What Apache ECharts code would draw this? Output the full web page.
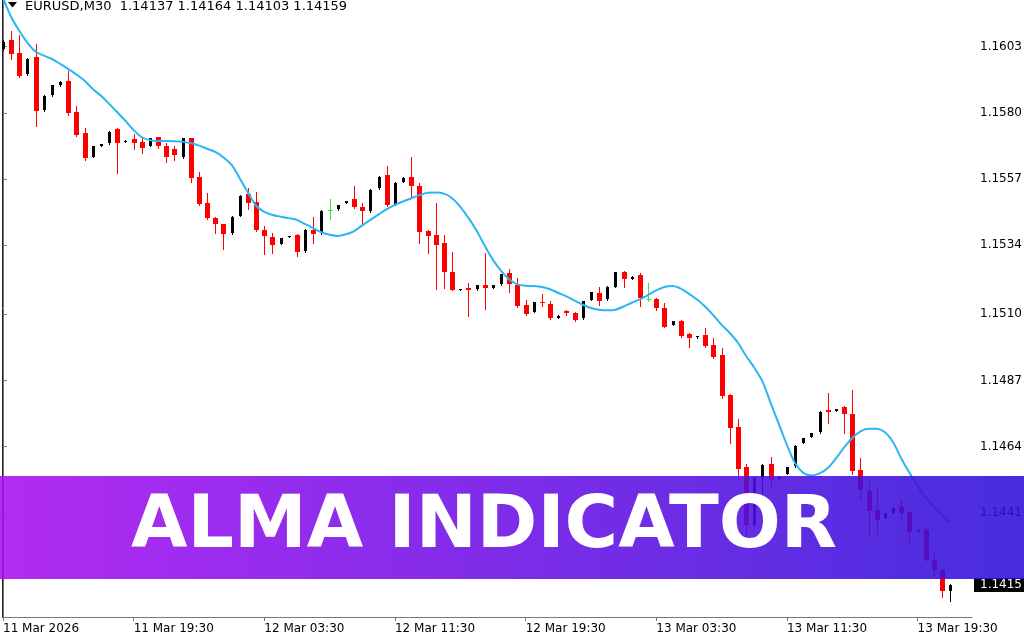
<!DOCTYPE html>
<html><head><meta charset="utf-8">
<script src="https://cdn.jsdelivr.net/npm/echarts@6/dist/echarts.min.js"></script>
<style>html,body{margin:0;padding:0;background:#fff}#c{width:1024px;height:640px}</style>
</head><body><div id="c"></div>
<script>
const headerText = 'EURUSD,M30  1.14137 1.14164 1.14103 1.14159';
const bannerText = 'ALMA INDICATOR';
const xTickIndex = [0, 16, 32, 48, 64, 80, 96, 112];
const xTickLabels = ['11 Mar 2026', '11 Mar 19:30', '12 Mar 03:30', '12 Mar 11:30', '12 Mar 19:30', '13 Mar 03:30', '13 Mar 11:30', '13 Mar 19:30'];
const yTickValues = [1.1603, 1.1580, 1.1557, 1.1534, 1.1510, 1.1487, 1.1464, 1.1441];
// [open, high, low, close] per 30-minute bar, 11 Mar 11:30 .. 13 Mar 21:30
const ohlc = [
[1.16021,1.16053,1.16019,1.16047],[1.16053,1.16086,1.15986,1.16004],[1.16007,1.16071,1.15926,1.15928],[1.15935,1.15991,1.15932,1.15986],
[1.15995,1.16039,1.15755,1.15808],[1.15810,1.15862,1.15807,1.15859],[1.15862,1.15897,1.15859,1.15895],[1.15897,1.15911,1.15893,1.15908],
[1.15912,1.15947,1.15793,1.15801],[1.15803,1.15824,1.15721,1.15723],[1.15731,1.15748,1.15636,1.15642],[1.15648,1.15685,1.15647,1.15683],
[1.15686,1.15692,1.15685,1.15691],[1.15694,1.15737,1.15692,1.15735],[1.15743,1.15747,1.15592,1.15694],[1.15698,1.15704,1.15697,1.15703],
[1.15708,1.15727,1.15674,1.15696],[1.15700,1.15712,1.15662,1.15679],[1.15686,1.15713,1.15685,1.15712],[1.15715,1.15717,1.15677,1.15683],
[1.15685,1.15694,1.15630,1.15648],[1.15674,1.15683,1.15636,1.15654],[1.15646,1.15713,1.15643,1.15712],[1.15712,1.15713,1.15561,1.15573],
[1.15576,1.15596,1.15480,1.15483],[1.15488,1.15521,1.15430,1.15434],[1.15434,1.15439,1.15382,1.15414],[1.15414,1.15415,1.15326,1.15378],
[1.15382,1.15442,1.15379,1.15439],[1.15442,1.15513,1.15440,1.15511],[1.15517,1.15538,1.15467,1.15488],[1.15491,1.15526,1.15391,1.15393],
[1.15393,1.15407,1.15310,1.15372],[1.15368,1.15382,1.15314,1.15341],[1.15345,1.15365,1.15343,1.15364],[1.15368,1.15373,1.15367,1.15372],
[1.15376,1.15378,1.15303,1.15318],[1.15320,1.15395,1.15318,1.15393],[1.15393,1.15439,1.15349,1.15379],[1.15382,1.15461,1.15379,1.15459],
[1.15463,1.15500,1.15430,1.15463],[1.15466,1.15479,1.15464,1.15478],[1.15486,1.15495,1.15485,1.15494],[1.15500,1.15544,1.15469,1.15472],
[1.15472,1.15486,1.15416,1.15460],[1.15459,1.15534,1.15457,1.15532],[1.15538,1.15581,1.15536,1.15578],[1.15584,1.15615,1.15477,1.15478],
[1.15480,1.15560,1.15478,1.15557],[1.15561,1.15576,1.15560,1.15575],[1.15578,1.15648,1.15509,1.15544],[1.15546,1.15555,1.15347,1.15387],
[1.15391,1.15393,1.15312,1.15372],[1.15376,1.15486,1.15187,1.15341],[1.15347,1.15376,1.15191,1.15248],[1.15248,1.15318,1.15184,1.15185],
[1.15185,1.15189,1.15184,1.15188],[1.15191,1.15208,1.15094,1.15185],[1.15187,1.15203,1.15186,1.15202],[1.15203,1.15312,1.15119,1.15191],
[1.15191,1.15203,1.15190,1.15202],[1.15204,1.15240,1.15203,1.15239],[1.15243,1.15257,1.15177,1.15206],[1.15202,1.15225,1.15126,1.15127],
[1.15133,1.15150,1.15098,1.15101],[1.15109,1.15142,1.15108,1.15141],[1.15144,1.15171,1.15127,1.15138],[1.15136,1.15147,1.15083,1.15086],
[1.15088,1.15096,1.15087,1.15095],[1.15112,1.15115,1.15098,1.15104],[1.15106,1.15109,1.15078,1.15080],[1.15086,1.15147,1.15085,1.15146],
[1.15150,1.15178,1.15149,1.15177],[1.15175,1.15196,1.15133,1.15146],[1.15152,1.15197,1.15151,1.15196],[1.15196,1.15247,1.15195,1.15246],
[1.15248,1.15252,1.15196,1.15222],[1.15222,1.15232,1.15221,1.15231],[1.15237,1.15243,1.15129,1.15156],[1.15152,1.15208,1.15147,1.15152],
[1.15152,1.15156,1.15115,1.15121],[1.15121,1.15138,1.15055,1.15057],[1.15063,1.15076,1.15062,1.15075],[1.15078,1.15080,1.15020,1.15025],
[1.15031,1.15034,1.14986,1.15017],[1.15020,1.15026,1.15019,1.15025],[1.15028,1.15052,1.14986,1.14990],[1.14994,1.15017,1.14947,1.14953],
[1.14959,1.14983,1.14809,1.14816],[1.14820,1.14823,1.14652,1.14704],[1.14708,1.14735,1.14525,1.14562],[1.14569,1.14580,1.14316,1.14368],
[1.14368,1.14535,1.14365,1.14531],[1.14531,1.14578,1.14472,1.14577],[1.14580,1.14603,1.14496,1.14525],[1.14527,1.14535,1.14526,1.14534],
[1.14545,1.14570,1.14544,1.14569],[1.14571,1.14644,1.14570,1.14643],[1.14652,1.14670,1.14651,1.14669],[1.14673,1.14688,1.14672,1.14687],
[1.14690,1.14763,1.14689,1.14762],[1.14768,1.14826,1.14722,1.14762],[1.14765,1.14771,1.14764,1.14770],[1.14777,1.14782,1.14687,1.14753],
[1.14754,1.14837,1.14545,1.14557],[1.14559,1.14600,1.14455,1.14490],[1.14486,1.14519,1.14333,1.14417],[1.14420,1.14497,1.14340,1.14386],
[1.14392,1.14410,1.14391,1.14409],[1.14411,1.14427,1.14410,1.14426],[1.14430,1.14453,1.14380,1.14411],[1.14413,1.14415,1.14309,1.14345],
[1.14346,1.14350,1.14345,1.14349],[1.14351,1.14357,1.14241,1.14247],[1.14247,1.14270,1.14189,1.14212],[1.14212,1.14215,1.14119,1.14139],
[1.14137,1.14164,1.14103,1.14159]
];
const alma = [
1.16199,1.16133,1.16085,1.16043,1.16012,1.15999,1.15987,1.15970,1.15952,1.15933,1.15911,1.15883,1.15859,1.15831,1.15802,1.15772,
1.15740,1.15715,1.15705,1.15702,1.15702,1.15701,1.15699,1.15694,1.15686,1.15675,1.15664,1.15645,1.15619,1.15572,1.15523,1.15477,
1.15456,1.15445,1.15439,1.15434,1.15428,1.15413,1.15399,1.15385,1.15376,1.15372,1.15378,1.15389,1.15409,1.15428,1.15447,1.15465,
1.15480,1.15492,1.15503,1.15514,1.15522,1.15523,1.15519,1.15503,1.15473,1.15435,1.15390,1.15338,1.15289,1.15251,1.15221,1.15204,
1.15199,1.15198,1.15195,1.15187,1.15174,1.15162,1.15147,1.15133,1.15122,1.15116,1.15114,1.15116,1.15127,1.15140,1.15152,1.15167,
1.15183,1.15195,1.15198,1.15189,1.15171,1.15151,1.15126,1.15096,1.15063,1.15035,1.15001,1.14955,1.14914,1.14867,1.14792,1.14719,
1.14646,1.14582,1.14549,1.14540,1.14547,1.14566,1.14599,1.14637,1.14670,1.14693,1.14702,1.14702,1.14690,1.14655,1.14599,1.14549,
1.14504,1.14463,1.14431,1.14401,1.14376
];

const FONT = 'DejaVu Sans';
const Y_MIN = 1.14048, Y_MAX = 1.16192;
const lastClose = ohlc[ohlc.length - 1][3];

function renderCandle(params, api) {
  const idx = api.value(0), o = api.value(1), h = api.value(2), l = api.value(3), c = api.value(4);
  const pO = api.coord([idx, o]), pC = api.coord([idx, c]);
  const pH = api.coord([idx, h]), pL = api.coord([idx, l]);
  const xc = Math.round(pO[0]);
  const doji = o === c, bull = c > o;
  const color = doji ? '#3ee03e' : (bull ? '#000000' : '#ff0000');
  const top = Math.round(Math.min(pO[1], pC[1])), bot = Math.round(Math.max(pO[1], pC[1]));
  const children = [{
    type: 'line',
    shape: { x1: xc + 0.5, y1: Math.round(pH[1]), x2: xc + 0.5, y2: Math.round(pL[1]) + 1 },
    style: { stroke: color, lineWidth: 1 }
  }];
  const half = doji ? 2 : (bull ? 1 : 2);
  children.push({
    type: 'rect',
    shape: { x: xc - half, y: top, width: half * 2 + 1, height: Math.max(1, bot - top) },
    style: { fill: color }
  });
  return { type: 'group', children };
}

const chart = echarts.init(document.getElementById('c'), null, { renderer: 'canvas' });
chart.setOption({
  animation: false,
  backgroundColor: '#ffffff',
  grid: { left: 2, right: 52, top: 0, bottom: 23, containLabel: false, outerBoundsMode: 'none' },
  xAxis: {
    type: 'value', min: -0.122, max: 118.66,
    axisLine: { show: true, onZero: false, lineStyle: { color: '#777777', width: 1 } },
    axisTick: { show: true, length: 4, customValues: xTickIndex, lineStyle: { color: '#777777' } },
    axisLabel: {
      show: true, customValues: xTickIndex, align: 'left', margin: 6,
      color: '#000000', fontFamily: FONT, fontSize: 12,
      formatter: v => xTickLabels[xTickIndex.indexOf(Math.round(v))] || ''
    },
    splitLine: { show: false }
  },
  yAxis: [{
    type: 'value', position: 'right', min: Y_MIN, max: Y_MAX, scale: true,
    axisLine: { show: true, lineStyle: { color: '#777777', width: 1 } },
    axisTick: { show: true, length: 4, customValues: yTickValues, lineStyle: { color: '#777777' } },
    axisLabel: {
      show: true, customValues: yTickValues, margin: 8,
      color: '#000000', fontFamily: FONT, fontSize: 12,
      formatter: v => v.toFixed(4)
    },
    splitLine: { show: false }
  }, {
    type: 'value', position: 'left', min: Y_MIN, max: Y_MAX, scale: true,
    axisLine: { show: true, lineStyle: { color: '#222222', width: 1 } },
    axisTick: { show: false }, axisLabel: { show: false }, splitLine: { show: false }
  }, {
    type: 'value', position: 'right', min: Y_MIN, max: Y_MAX, scale: true,
    axisLine: { show: false }, axisTick: { show: false }, splitLine: { show: false },
    axisLabel: {
      show: true, customValues: [lastClose], margin: 2,
      color: '#ffffff', backgroundColor: '#000000', padding: [1, 6, 1, 6],
      fontFamily: FONT, fontSize: 12,
      formatter: v => (Math.floor(v * 1e4 + 1e-6) / 1e4).toFixed(4)
    }
  }],
  series: [{
    type: 'custom',
    renderItem: renderCandle,
    clip: true,
    encode: { x: 0, y: [1, 2, 3, 4] },
    data: ohlc.map((r, i) => [i, r[0], r[1], r[2], r[3]]),
    z: 3
  }, {
    type: 'line',
    data: alma.map((v, i) => [i, v]),
    showSymbol: false,
    smooth: 0.3,
    clip: true,
    lineStyle: { color: '#2bb5f2', width: 2 },
    z: 4
  }],
  graphic: [
    { type: 'polygon', z: 100, shape: { points: [[8, 2], [17, 2], [12.5, 7.5]] }, style: { fill: '#000' } },
    { type: 'text', z: 100, x: 25, y: 0, style: { text: headerText, fill: '#000', font: '13px "DejaVu Sans"', textVerticalAlign: 'top' } },
    {
      type: 'rect', z: 100, shape: { x: 0, y: 476, width: 1024, height: 103 },
      style: {
        fill: new echarts.graphic.LinearGradient(0, 0, 1, 0, [
          { offset: 0, color: 'rgba(168,14,240,0.88)' },
          { offset: 1, color: 'rgba(46,16,218,0.88)' }
        ])
      }
    },
    {
      type: 'text', z: 101, x: 484, y: 528,
      style: { text: bannerText, fill: '#ffffff', font: 'bold 73px "DejaVu Sans"', textAlign: 'center', textVerticalAlign: 'middle' }
    }
  ]
});
</script>
</body></html>
